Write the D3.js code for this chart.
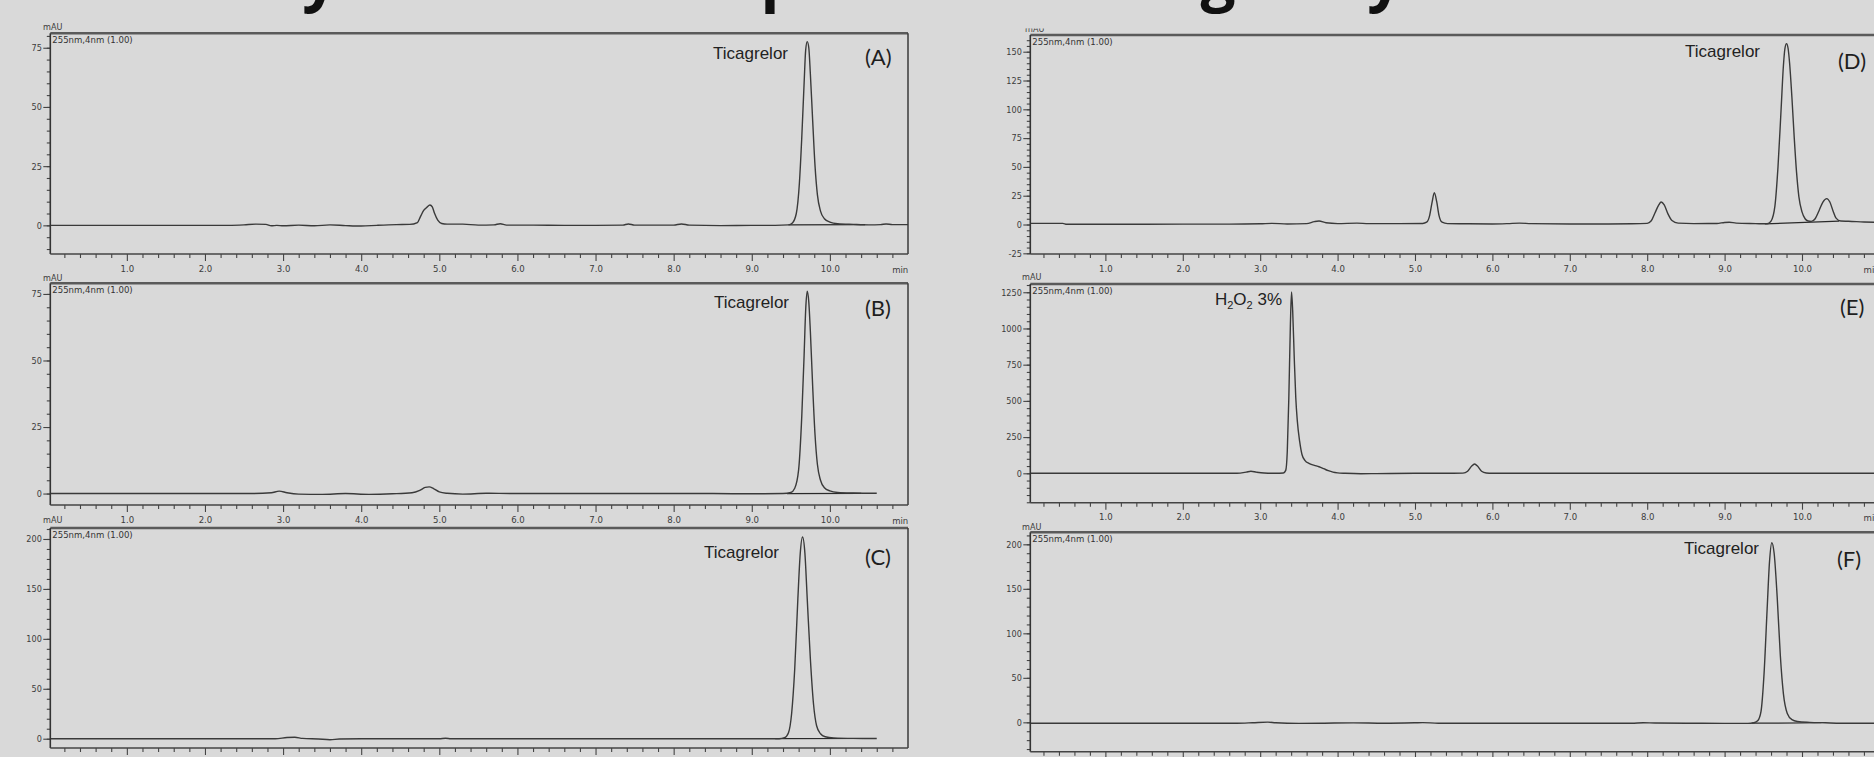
<!DOCTYPE html>
<html><head><meta charset="utf-8">
<script src="https://cdn.jsdelivr.net/npm/d3@7/dist/d3.min.js"></script>
<style>
html,body{margin:0;padding:0;background:#d9d9d9;overflow:hidden;}
svg{display:block;}
.tk text{font-family:"Liberation Sans Narrow","DejaVu Sans Condensed","Liberation Sans",sans-serif;font-stretch:condensed;fill:#3c3c3c;}
</style></head><body>
<script>
// ---------------- DATA ----------------
const timeTickValues = [1, 2, 3, 4, 5, 6, 7, 8, 9, 10];
const timeTickLabels = ["1.0","2.0","3.0","4.0","5.0","6.0","7.0","8.0","9.0","10.0"];
const panelLetters = ["(A)","(B)","(C)","(D)","(E)","(F)"];
const peakNames = ["Ticagrelor","Ticagrelor","Ticagrelor","Ticagrelor","H2O2 3%","Ticagrelor"];
const detectorText = "255nm,4nm (1.00)";
const yUnit = "mAU";
const xUnit = "min";
const titleFragments = ["y","p","g","y"];

const yTicksA = [0, 25, 50, 75];
const yTicksB = [0, 25, 50, 75];
const yTicksC = [0, 50, 100, 150, 200];
const yTicksD = [-25, 0, 25, 50, 75, 100, 125, 150];
const yTicksE = [0, 250, 500, 750, 1000, 1250];
const yTicksF = [0, 50, 100, 150, 200];

// [time (min), absorbance (mAU)]
const traceA = [[0.02,0.0],[0.5,0.0],[1.0,0.0],[1.5,0.0],[2.0,0.0],[2.3,0.0],[2.5,0.2],[2.65,0.5],[2.78,0.4],[2.85,-0.2],[2.92,0.0],[3.0,-0.2],[3.2,0.1],[3.4,-0.2],[3.6,0.2],[3.8,-0.1],[4.0,-0.3],[4.2,0.0],[4.45,0.3],[4.62,0.4],[4.72,1.2],[4.76,3.8],[4.80,6.3],[4.84,7.6],[4.88,8.6],[4.91,7.8],[4.94,5.0],[4.98,2.2],[5.03,0.8],[5.1,0.5],[5.3,0.5],[5.5,0.1],[5.7,0.2],[5.78,0.7],[5.86,0.1],[6.2,0.1],[6.6,0.0],[7.0,0.0],[7.35,0.1],[7.42,0.6],[7.5,0.1],[8.0,0.1],[8.1,0.6],[8.2,0.1],[8.6,-0.1],[9.0,0.0],[9.3,0.0],[9.47,0.2],[9.52,1.0],[9.57,5],[9.61,18],[9.64,37],[9.67,60],[9.69,74],[9.71,77.6],[9.73,75],[9.75,64],[9.78,44],[9.81,25],[9.84,13],[9.88,6],[9.93,2.8],[10.0,1.4],[10.1,0.7],[10.3,0.4],[10.5,0.2],[10.65,0.3],[10.72,0.6],[10.8,0.3],[11.0,0.3]];
const traceB = [[0.02,0.0],[1.0,0.0],[2.0,0.0],[2.6,0.0],[2.85,0.3],[2.95,0.9],[3.05,0.3],[3.2,-0.2],[3.5,-0.3],[3.8,0.0],[4.1,-0.3],[4.4,-0.1],[4.65,0.3],[4.75,1.2],[4.82,2.3],[4.87,2.5],[4.93,1.8],[5.0,0.6],[5.1,0.1],[5.3,-0.2],[5.6,0.1],[6.0,0.0],[6.5,0.0],[7.0,0.0],[7.5,0.0],[8.0,0.0],[8.5,0.0],[9.0,-0.1],[9.4,0.0],[9.5,0.4],[9.55,2],[9.6,9],[9.64,29],[9.67,52],[9.69,69],[9.71,76],[9.73,72],[9.75,61],[9.78,40],[9.81,22],[9.84,11],[9.88,5],[9.93,2.2],[10.0,1.0],[10.1,0.4],[10.3,0.2],[10.6,0.1]];
const traceC = [[0.02,0.0],[1.0,0.0],[2.0,0.0],[2.9,0.0],[3.05,1.2],[3.15,1.5],[3.25,0.3],[3.45,-0.3],[3.6,-1.0],[3.72,-0.3],[4.0,0.0],[5.0,0.0],[5.08,0.5],[5.15,0.0],[6.0,0.0],[7.0,0.0],[8.0,0.0],[9.0,0.0],[9.35,0.0],[9.42,1],[9.47,6],[9.51,25],[9.55,70],[9.59,140],[9.62,185],[9.65,202],[9.68,186],[9.71,140],[9.75,80],[9.79,35],[9.83,13],[9.88,5],[9.94,2],[10.05,0.8],[10.3,0.3],[10.6,0.2]];
const traceD = [[0.03,1.0],[0.45,1.0],[0.5,0.2],[1.0,0.2],[2.0,0.3],[2.6,0.3],[3.0,0.6],[3.15,1.0],[3.35,0.5],[3.6,0.8],[3.7,2.5],[3.76,3.0],[3.85,1.5],[4.0,0.8],[4.25,1.2],[4.4,0.8],[4.8,0.8],[5.1,0.9],[5.15,2],[5.19,8],[5.22,19],[5.25,27.7],[5.28,20],[5.31,8],[5.35,2],[5.42,0.8],[5.7,0.6],[6.0,0.5],[6.2,0.8],[6.35,1.2],[6.5,0.8],[7.0,0.5],[7.5,0.5],[7.8,0.6],[8.0,1.0],[8.05,3],[8.1,10],[8.15,17],[8.18,19.5],[8.22,17],[8.27,9],[8.32,3.5],[8.4,1.2],[8.6,0.8],[8.9,0.9],[9.0,1.8],[9.06,2.0],[9.15,1.2],[9.4,0.8],[9.55,0.6],[9.6,3],[9.65,16],[9.69,50],[9.73,100],[9.76,138],[9.78,153],[9.80,157],[9.82,153],[9.84,140],[9.87,110],[9.90,75],[9.93,45],[9.96,24],[10.0,11],[10.04,5],[10.08,3],[10.12,2.7],[10.17,5],[10.22,12],[10.27,19.5],[10.32,22.5],[10.36,19.5],[10.40,12],[10.44,5.5],[10.5,3],[10.6,2.8],[10.8,2.2],[11.0,1.8]];
const traceE = [[0.03,0],[1.0,0],[2.0,0],[2.7,0],[2.82,8],[2.88,14],[2.95,8],[3.05,2],[3.2,0],[3.3,2],[3.33,20],[3.35,150],[3.37,520],[3.39,1020],[3.405,1252],[3.42,1120],[3.44,800],[3.46,520],[3.48,360],[3.51,220],[3.54,130],[3.58,88],[3.63,68],[3.70,55],[3.76,45],[3.82,32],[3.88,18],[3.94,8],[4.0,3],[4.1,0],[4.3,-3],[4.5,-2],[5.0,0],[5.5,0],[5.62,1],[5.68,14],[5.73,48],[5.77,64],[5.81,48],[5.86,14],[5.92,2],[6.0,0],[7.0,0],[8.0,0],[9.0,0],[10.0,0],[11.0,0]];
const traceF = [[0.03,-1],[1.0,-1],[2.0,-1],[2.7,-1],[2.9,-0.5],[3.1,0.2],[3.2,-0.5],[3.5,-1.2],[3.8,-1],[4.2,-0.6],[4.6,-1],[5.0,-0.5],[5.1,-0.3],[5.3,-1],[6.0,-1],[7.0,-1],[7.8,-1],[7.95,-0.5],[8.1,-0.8],[8.5,-1],[9.0,-1.2],[9.3,-1.2],[9.38,-0.5],[9.43,2],[9.47,12],[9.51,55],[9.55,128],[9.58,180],[9.61,201.8],[9.64,190],[9.68,140],[9.72,75],[9.76,32],[9.81,10],[9.87,3],[9.94,1],[10.1,0],[10.3,-0.5],[10.5,-1],[11.0,-1]];

// integration baselines drawn under the main peaks
const baseA = [[9.47,0.2],[10.45,0.3]];
const baseB = [[9.45,0.0],[10.4,0.1]];
const baseC = [[9.3,0.0],[10.55,0.2]];
const baseD = [[9.52,0.5],[10.48,3.0]];
const baseE = [];
const baseF = [[9.35,-1.0],[10.25,-0.5]];

// ---------------- LAYOUT ----------------
const W = 1874, H = 757;
const leftX = {dom:[0.02, 11.0], rng:[50.3, 908]};
const rightX = {dom:[0.03, 11.0], rng:[1030.3, 1879.4]};
const panels = [
  {trace:traceA, base:baseA, yt:yTicksA, minorStep:5,  yDom:[-12.1,81.1], top:33.3, bottom:254,  xs:leftX, xLabels:true,
   name:{x:788, y:59}, letter:{x:865, y:65}, mau:{x:43, y:30}},
  {trace:traceB, base:baseB, yt:yTicksB, minorStep:5,  yDom:[-4.3,79.0],  top:283.3, bottom:505, xs:leftX, xLabels:true,
   name:{x:789, y:308}, letter:{x:865, y:316}, mau:{x:43, y:281}},
  {trace:traceC, base:baseC, yt:yTicksC, minorStep:10, yDom:[-9.3,211.0], top:528,  bottom:748,  xs:leftX, xLabels:false,
   name:{x:779, y:558}, letter:{x:865, y:565}, mau:{x:43, y:523}},
  {trace:traceD, base:baseD, yt:yTicksD, minorStep:5,  yDom:[-25.6,164.5],top:35,   bottom:254,  xs:rightX, xLabels:true,
   name:{x:1760, y:57}, letter:{x:1838, y:69}, mau:{x:1025, y:32}, mauClip:true},
  {trace:traceE, base:baseE, yt:yTicksE, minorStep:50, yDom:[-203,1307],  top:284,  bottom:502.7,xs:rightX, xLabels:true,
   name:{x:1282, y:305}, letter:{x:1840, y:315}, mau:{x:1022, y:280}, sub:true},
  {trace:traceF, base:baseF, yt:yTicksF, minorStep:10, yDom:[-33,213.5],  top:532.3,bottom:751.7,xs:rightX, xLabels:false,
   name:{x:1759, y:554}, letter:{x:1837, y:567}, mau:{x:1022, y:530}}
];

const svg = d3.select("body").append("svg").attr("width", W).attr("height", H);
svg.append("rect").attr("width", W).attr("height", H).attr("fill", "#d9d9d9");

// cropped title line of the source figure (only descenders remain visible)
const titleX = [320, 780, 1218, 1385];
svg.selectAll("text.title").data(titleFragments).join("text")
  .attr("class","title")
  .attr("x", (d,i)=>titleX[i]).attr("y", -1)
  .attr("text-anchor","middle")
  .attr("font-family","'Open Sans', 'Liberation Sans', sans-serif")
  .attr("font-weight",700).attr("font-size",62).attr("fill","#111")
  .text(d=>d);

const defs = svg.append("defs");
const narrow = "'Liberation Sans Narrow','DejaVu Sans Condensed','Liberation Sans',sans-serif";

panels.forEach((p, i) => {
  const g = svg.append("g");
  const x = d3.scaleLinear().domain(p.xs.dom).range(p.xs.rng);
  const y = d3.scaleLinear().domain(p.yDom).range([p.bottom, p.top]);
  const xl = p.xs.rng[0], xr = p.xs.rng[1];
  const visR = Math.min(xr, W);

  defs.append("clipPath").attr("id","clip"+i).append("rect")
    .attr("x", xl).attr("y", p.top).attr("width", visR - xl).attr("height", p.bottom - p.top);

  // x axis (major + minor)
  const minorX = d3.range(0.2, 10.9, 0.2).filter(v => Math.abs(v - Math.round(v)) > 0.05);
  g.append("g").attr("class","tk").attr("transform",`translate(0,${p.bottom})`)
    .call(d3.axisBottom(x).tickValues(minorX).tickSize(4).tickFormat(""))
    .call(a => { a.select(".domain").remove(); a.selectAll("text").remove();
      a.selectAll("line").attr("stroke","#444").attr("stroke-width",1.1); });
  g.append("g").attr("class","tk").attr("transform",`translate(0,${p.bottom})`)
    .call(d3.axisBottom(x).tickValues(timeTickValues).tickSize(7).tickPadding(4)
      .tickFormat((d,k)=>timeTickLabels[k]))
    .call(a => { a.select(".domain").remove(); a.selectAll("line").attr("stroke","#444").attr("stroke-width",1.1);
      if (p.xLabels) a.selectAll("text").attr("font-size",9.5); else a.selectAll("text").remove(); });

  // y axis (major + minor)
  const minorY = d3.range(Math.ceil(p.yDom[0]/p.minorStep)*p.minorStep, p.yDom[1], p.minorStep);
  g.append("g").attr("class","tk").attr("transform",`translate(${xl},0)`)
    .call(d3.axisLeft(y).tickValues(minorY).tickSize(3.5).tickFormat(""))
    .call(a => { a.select(".domain").remove(); a.selectAll("text").remove();
      a.selectAll("line").attr("stroke","#444").attr("stroke-width",1.1); });
  g.append("g").attr("class","tk").attr("transform",`translate(${xl},0)`)
    .call(d3.axisLeft(y).tickValues(p.yt).tickSize(7).tickPadding(1.5).tickFormat(d => String(d)))
    .call(a => { a.select(".domain").remove(); a.selectAll("line").attr("stroke","#444").attr("stroke-width",1.1);
      a.selectAll("text").attr("font-size",9); });

  // trace
  const line = d3.line().x(d=>x(d[0])).y(d=>y(d[1])).curve(d3.curveMonotoneX);
  const pg = g.append("g").attr("clip-path",`url(#clip${i})`);
  if (p.base.length) {
    pg.append("path").datum(p.base).attr("d", d3.line().x(d=>x(d[0])).y(d=>y(d[1])))
      .attr("fill","none").attr("stroke","#2a2a2a").attr("stroke-width",1.2);
  }
  pg.append("path").datum(p.trace).attr("d", line)
    .attr("fill","none").attr("stroke","#3a3a3a").attr("stroke-width",1.4).attr("stroke-linejoin","round");

  // frame
  g.append("line").attr("x1", xl).attr("x2", visR).attr("y1", p.top).attr("y2", p.top)
    .attr("stroke","#5a5a5a").attr("stroke-width",2.6);
  if (xr <= W) {
    g.append("line").attr("x1", xr).attr("x2", xr).attr("y1", p.top).attr("y2", p.bottom)
      .attr("stroke","#3a3a3a").attr("stroke-width",1.5);
  }
  g.append("line").attr("x1", xl).attr("x2", xl).attr("y1", p.top).attr("y2", p.bottom)
    .attr("stroke","#333").attr("stroke-width",1.6);
  g.append("line").attr("x1", xl).attr("x2", visR).attr("y1", p.bottom).attr("y2", p.bottom)
    .attr("stroke","#444").attr("stroke-width",1.6);

  // labels
  if (p.xLabels) {
    g.append("text").attr("x", x(10.9)).attr("y", p.bottom + 18.5).attr("text-anchor","middle")
      .attr("font-family", narrow).attr("font-stretch","condensed").attr("font-size",9.5).attr("fill","#3c3c3c").text(xUnit);
  }

  const mau = g.append("text").attr("x", p.mau.x).attr("y", p.mau.y)
    .attr("font-family", narrow).attr("font-stretch","condensed").attr("font-size",9).attr("fill","#3c3c3c").text(yUnit);
  if (p.mauClip) {
    defs.append("clipPath").attr("id","mclip"+i).append("rect")
      .attr("x", p.mau.x - 2).attr("y", p.mau.y - 3.5).attr("width", 30).attr("height", 6);
    mau.attr("clip-path", `url(#mclip${i})`);
  }

  g.append("text").attr("x", xl + 2).attr("y", p.top + 9.5)
    .attr("font-family", narrow).attr("font-stretch","condensed").attr("font-size",9.5).attr("fill","#333").text(detectorText);

  const nm = g.append("text").attr("x", p.name.x).attr("y", p.name.y).attr("text-anchor","end")
    .attr("font-family","'Liberation Sans', Arial, sans-serif").attr("font-size",17).attr("fill","#222");
  if (p.sub) {
    const parts = peakNames[i].match(/^(H)(2)(O)(2)(.*)$/);
    nm.append("tspan").text(parts[1]);
    nm.append("tspan").attr("dy",4).attr("font-size",11).text(parts[2]);
    nm.append("tspan").attr("dy",-4).text(parts[3]);
    nm.append("tspan").attr("dy",4).attr("font-size",11).text(parts[4]);
    nm.append("tspan").attr("dy",-4).text(parts[5]);
  } else {
    nm.text(peakNames[i]);
  }

  g.append("text").attr("x", p.letter.x).attr("y", p.letter.y)
    .attr("font-family","Lato, 'Open Sans', sans-serif").attr("font-size",22).attr("fill","#1e1e1e").text(panelLetters[i]);
});
</script>
</body></html>
